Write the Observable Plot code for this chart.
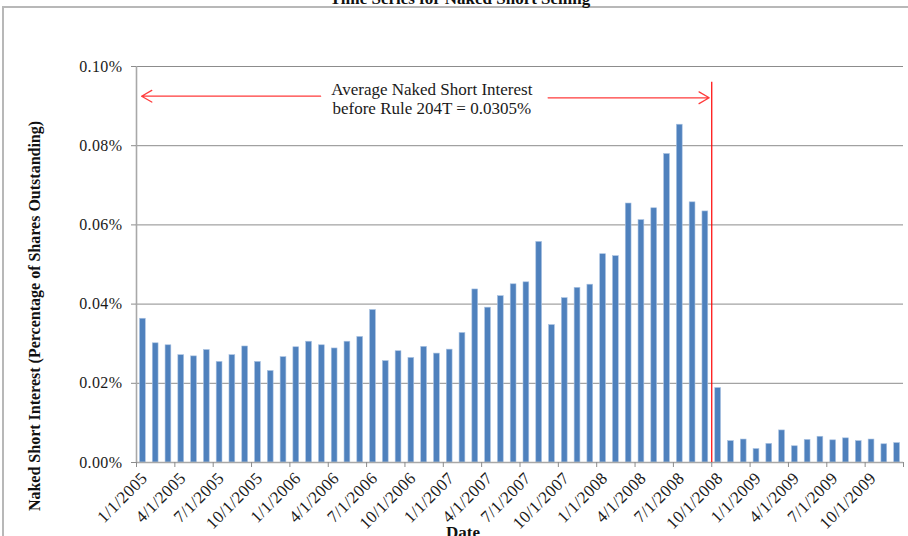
<!DOCTYPE html>
<html><head><meta charset="utf-8">
<script src="https://cdn.jsdelivr.net/npm/d3@7"></script>
<script src="https://cdn.jsdelivr.net/npm/@observablehq/plot@0.6"></script>
<style>
body{margin:0;background:#fff;}
#wrap{position:relative;width:908px;height:536px;overflow:hidden;font-family:"Liberation Serif","Times New Roman",serif;color:#111;}
#frame{position:absolute;left:2px;top:6px;width:920px;height:560px;border:2px solid #b8b8b8;box-sizing:border-box;}
#title{position:absolute;top:-11px;left:0;width:920px;text-align:center;font-weight:bold;font-size:17px;white-space:nowrap;}
#ytitle{position:absolute;left:35px;top:316px;transform:translate(-50%,-50%) rotate(-90deg);font-weight:bold;font-size:16px;white-space:nowrap;}
#xtitle{position:absolute;left:463px;top:523px;transform:translateX(-50%);font-weight:bold;font-size:17px;white-space:nowrap;}
#chart{position:absolute;left:0;top:0;}
g[aria-label="y-axis tick label"] text{letter-spacing:0.4px;}
g[aria-label="x-axis tick label"] text{letter-spacing:0.3px;}
</style>
</head><body>
<div id="wrap">
  <div id="frame"></div>
  <div id="chart"></div>
  <div id="title">Time Series for Naked Short Selling</div>
  <div id="ytitle">Naked Short Interest (Percentage of Shares Outstanding)</div>
  <div id="xtitle">Date</div>
</div>
<script>
// Monthly observations, Jan 2005 .. Dec 2009
const months = [
 "2005-01","2005-02","2005-03","2005-04","2005-05","2005-06","2005-07","2005-08","2005-09","2005-10","2005-11","2005-12",
 "2006-01","2006-02","2006-03","2006-04","2006-05","2006-06","2006-07","2006-08","2006-09","2006-10","2006-11","2006-12",
 "2007-01","2007-02","2007-03","2007-04","2007-05","2007-06","2007-07","2007-08","2007-09","2007-10","2007-11","2007-12",
 "2008-01","2008-02","2008-03","2008-04","2008-05","2008-06","2008-07","2008-08","2008-09","2008-10","2008-11","2008-12",
 "2009-01","2009-02","2009-03","2009-04","2009-05","2009-06","2009-07","2009-08","2009-09","2009-10","2009-11","2009-12"
];
// Naked short interest, % of shares outstanding
const values = [
 0.0363,0.0301,0.0296,0.0271,0.0268,0.0284,0.0254,0.0271,0.0293,0.0254,0.0231,0.0266,
 0.0291,0.0305,0.0296,0.0288,0.0305,0.0317,0.0385,0.0256,0.0281,0.0264,0.0292,0.0275,
 0.0285,0.0327,0.0437,0.0391,0.0420,0.0450,0.0455,0.0557,0.0347,0.0415,0.0441,0.0449,
 0.0526,0.0521,0.0654,0.0612,0.0642,0.0779,0.0853,0.0657,0.0634,0.0188,0.0054,0.0058,
 0.0034,0.0047,0.0081,0.0041,0.0057,0.0065,0.0056,0.0061,0.0054,0.0058,0.0046,0.0049
];
const xTickLabels = ["1/1/2005","4/1/2005","7/1/2005","10/1/2005","1/1/2006","4/1/2006","7/1/2006","10/1/2006",
 "1/1/2007","4/1/2007","7/1/2007","10/1/2007","1/1/2008","4/1/2008","7/1/2008","10/1/2008",
 "1/1/2009","4/1/2009","7/1/2009","10/1/2009"];
const yTicks = [0, 0.02, 0.04, 0.06, 0.08, 0.10];
// annotations (x in month index units, y in %)
const noteArrows = [{from: 14.4, to: 0.4, y: 0.0925}, {from: 32.2, to: 44.8, y: 0.0921}];
const ruleDate = [{x: 45, top: 0.096}];
const noteText = [{x: 23.1, y: 0.0919, label: "Average Naked Short Interest\nbefore Rule 204T = 0.0305%"}];

const data = values.map((v, i) => ({month: months[i], i, value: v}));
const xTickPos = xTickLabels.map((_, k) => k * 3).concat([months.length]);
const xLabelPos = xTickLabels.map((_, k) => k * 3);

const chart = Plot.plot({
  width: 908, height: 536,
  marginTop: 66, marginBottom: 74, marginLeft: 136, marginRight: 5,
  style: {fontFamily: "'Liberation Serif', 'Times New Roman', serif", fontSize: "15px", color: "#1a1a1a", background: "transparent", overflow: "visible"},
  x: {type: "linear", domain: [0, months.length]},
  y: {domain: [0, 0.10]},
  marks: [
    Plot.gridY(yTicks, {stroke: "#8c8c8c", strokeOpacity: 1, strokeWidth: 1}),
    Plot.rectY(data, {x1: "i", x2: d => d.i + 1, y: "value", fill: "#4f81bd", stroke: "#a9c2e2", strokeWidth: 0.6, insetLeft: 3.5, insetRight: 3.5}),
    Plot.ruleY([0], {stroke: "#a8a8a8", strokeWidth: 1.6}),
    Plot.ruleX([0], {stroke: "#a8a8a8", strokeWidth: 1.6}),
    Plot.axisY(yTicks, {tickFormat: d => d.toFixed(2) + "%", tickSize: 5, tickPadding: 9, stroke: "#8c8c8c", fontSize: 16, label: null}),
    Plot.axisX(xTickPos, {tickSize: 5, stroke: "#8c8c8c", tickFormat: () => "", label: null}),
    Plot.axisX(xLabelPos, {tickFormat: d => xTickLabels[Math.round(d / 3)], tickRotate: -45, tickSize: 0, tickPadding: 13, dx: 8, fontSize: 17, label: null}),
    Plot.ruleX(ruleDate, {x: "x", y1: 0, y2: "top", stroke: "#ff0000", strokeWidth: 1.2}),
    Plot.arrow(noteArrows, {x1: "from", x2: "to", y1: "y", y2: "y", stroke: "#ff3b3b", strokeWidth: 1.3, headLength: 13.5, headAngle: 60}),
    Plot.text(noteText, {x: "x", y: "y", text: "label", fontSize: 17, fill: "#1a1a1a", lineHeight: 1.12})
  ]
});
document.getElementById("chart").appendChild(chart);
</script>
</body></html>
